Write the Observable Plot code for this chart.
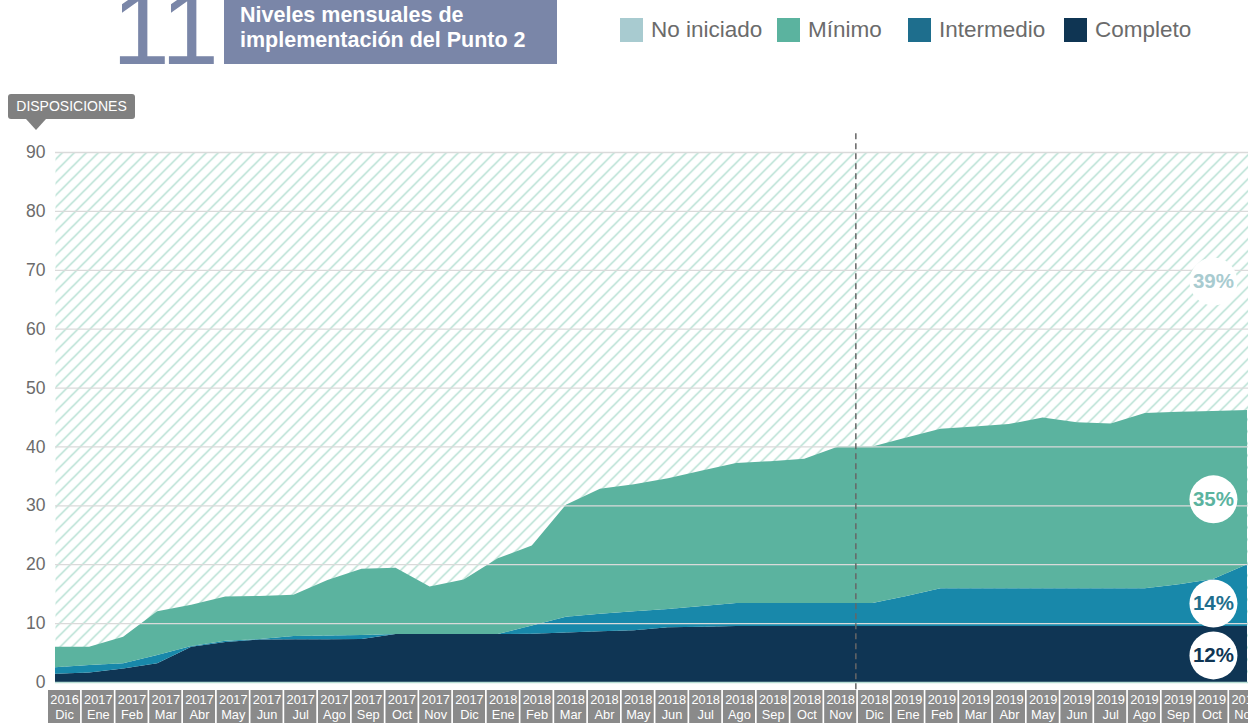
<!DOCTYPE html>
<html>
<head>
<meta charset="utf-8">
<script src="https://cdn.jsdelivr.net/npm/d3@7"></script>
<script src="https://cdn.jsdelivr.net/npm/@observablehq/plot@0.6"></script>
<style>
  html, body { margin: 0; padding: 0; background: #fff; overflow: hidden; width: 1248px; height: 723px; }
  body { position: relative; font-family: "Liberation Sans", Arial, sans-serif; }
  .abs { position: absolute; }
  #bignum { left: 112px; top: -24px; font-size: 104px; font-weight: normal; line-height: 1; color: #7a86a8; letter-spacing: -1px; font-family: "Liberation Sans", Arial, sans-serif; }
  #titlebox { left: 224px; top: 0; width: 333px; height: 64px; background: #7a86a8; color: #fff; font-weight: bold; font-size: 21.5px; line-height: 25px; box-sizing: border-box; padding: 3px 0 0 16px; }
  .lg { top: 18px; height: 24px; display: flex; align-items: center; font-size: 22.5px; color: #6b6b6b; }
  .sw { width: 23px; height: 24px; margin-right: 8px; }
  #disp { left: 8px; top: 94px; width: 127px; height: 25px; background: #808080; border-radius: 3px; color: #fff; font-size: 14px; line-height: 25px; text-align: center; }
  #disptri { left: 26px; top: 119px; width: 0; height: 0; border-left: 10px solid transparent; border-right: 10px solid transparent; border-top: 11px solid #808080; }
  #chart { left: 0; top: 130px; }
  #months { left: 0; top: 690px; width: 1248px; }
</style>
</head>
<body>
<svg width="0" height="0" style="position:absolute">
  <defs>
    <pattern id="hatch" patternUnits="userSpaceOnUse" width="12" height="12">
      <rect width="12" height="12" fill="#ffffff"/>
      <path d="M-3,3 L3,-3 M0,12 L12,0 M9,15 L15,9" stroke="#9fd7c5" stroke-width="1.2"/>
    </pattern>
  </defs>
</svg>

<div id="bignum" class="abs">11</div>
<div id="titlebox" class="abs">Niveles mensuales de<br>implementación del Punto 2</div>
<div id="legend"></div>
<div id="disp" class="abs">DISPOSICIONES</div>
<div id="disptri" class="abs"></div>
<div id="chart" class="abs"></div>
<div id="months" class="abs"></div>

<script>
// ---- Data ----
const years = ["2016","2017","2017","2017","2017","2017","2017","2017","2017","2017","2017","2017","2017",
               "2018","2018","2018","2018","2018","2018","2018","2018","2018","2018","2018","2018",
               "2019","2019","2019","2019","2019","2019","2019","2019","2019","2019","2019"];
const monthNames = ["Dic","Ene","Feb","Mar","Abr","May","Jun","Jul","Ago","Sep","Oct","Nov","Dic",
                    "Ene","Feb","Mar","Abr","May","Jun","Jul","Ago","Sep","Oct","Nov","Dic",
                    "Ene","Feb","Mar","Abr","May","Jun","Jul","Ago","Sep","Oct","Nov"];

const levels = ["Completo", "Intermedio", "Mínimo"];
const completo = [1.4,1.6,2.3,3.2,6.0,6.8,7.2,7.25,7.25,7.3,
                  8.15,8.15,8.15,8.15,8.2,8.4,8.6,8.8,9.3,9.4,
                  9.5,9.5,9.5,9.5,9.5,9.5,9.5,9.5,9.5,9.5,
                  9.5,9.5,9.5,9.5,9.5,9.5];
const intermedio = [1.1,1.3,0.9,1.4,0.1,0.2,0.1,0.55,0.65,0.7,
                    0,0,0,0,1.4,2.7,3.0,3.2,3.1,3.5,
                    3.9,3.9,3.9,3.9,3.9,5.1,6.4,6.4,6.4,6.4,
                    6.4,6.4,6.4,7.1,8.0,10.5];
const minimo = [3.5,3.1,4.5,7.4,7.0,7.5,7.3,7.0,9.4,11.25,
                11.25,8.05,9.25,12.85,13.6,19.0,21.2,21.6,22.2,23.0,
                23.8,24.1,24.5,26.6,26.6,26.9,27.1,27.5,27.9,29.0,
                28.2,28.0,29.8,29.3,28.5,26.2];

const yTicks = [0,10,20,30,40,50,60,70,80,90];
const gridTicks = [10,20,30,40,50,60,70,80,90];

const legendNames = ["No iniciado", "Mínimo", "Intermedio", "Completo"];
const legendColors = ["#a8cbd0", "#5bb39f", "#1e6e8d", "#0f3553"];
const areaColors = ["#0f3554", "#1888aa", "#5bb39f"];

const pctLabels = ["39%", "35%", "14%", "12%"];
const pctY = [68.1, 31.1, 13.4, 4.6];
const pctColors = ["#a8cbd0", "#5bb39f", "#1e6e8d", "#0f3553"];
const pctMonthIndex = 34;
const splitIndex = 23.5; // between 2018 Nov and 2018 Dic

// ---- Legend (HTML) ----
const legendLeft = [620, 777, 908, 1064];
const legendDiv = document.getElementById("legend");
legendNames.forEach((n, k) => {
  const item = document.createElement("div");
  item.className = "abs lg";
  item.style.left = legendLeft[k] + "px";
  item.innerHTML = `<div class="sw" style="background:${legendColors[k]}"></div><span>${n}</span>`;
  legendDiv.appendChild(item);
});

// ---- Long table for stacking ----
const series = [completo, intermedio, minimo];
const rows = levels.flatMap((lv, k) => series[k].map((v, i) => ({i, level: lv, value: v})));
const labelRows = pctLabels.map((t, k) => ({t, y: pctY[k], c: pctColors[k], i: pctMonthIndex}));

const chart = Plot.plot({
  width: 1248,
  height: 572,
  marginLeft: 55,
  marginRight: 0,
  marginTop: 22,
  marginBottom: 20,
  style: {fontFamily: "Liberation Sans, Arial, sans-serif", fontSize: "17.5px", color: "#6b6b6b", background: "transparent"},
  x: {type: "linear", domain: [0, years.length - 1], range: [55, 1247], axis: null},
  y: {domain: [0, 90], ticks: yTicks, tickSize: 0, tickPadding: 10, label: null},
  color: {domain: levels, range: areaColors},
  marks: [
    Plot.frame({fill: "url(#hatch)", stroke: null}),
    Plot.areaY(rows, {x: "i", y: "value", z: "level", fill: "level", order: levels}),
    Plot.ruleY(gridTicks, {stroke: "#dadada", strokeWidth: 1.3}),
    Plot.ruleY([0], {stroke: "#b7ddd4", strokeWidth: 1.5}),
    Plot.ruleX([splitIndex], {y1: 93.2, y2: -1.4, stroke: "#666", strokeWidth: 1.5, strokeDasharray: "6,4"}),
    Plot.dot(labelRows, {x: "i", y: "y", r: 24, fill: "white", stroke: null}),
    Plot.text(labelRows, {x: "i", y: "y", text: "t", fill: "c", fontSize: 20.5, fontWeight: "bold"})
  ]
});
document.getElementById("chart").appendChild(chart);

// ---- Month boxes (bottom axis) ----
const monthLabels = years.map((y, i) => y + "\n" + monthNames[i]);
const monthsPlot = Plot.plot({
  width: 1248,
  height: 33,
  margin: 0,
  style: {fontFamily: "Liberation Sans, Arial, sans-serif", background: "transparent"},
  x: {type: "band", domain: monthLabels, range: [48, 1261.2], paddingInner: 0.05, paddingOuter: 0, round: false, axis: null},
  marks: [
    Plot.cell(monthLabels, {x: d => d, fill: "#8a8a8a"}),
    Plot.text(monthLabels, {x: d => d, text: d => d, fill: "white", fontSize: 12.8, lineHeight: 1.18, frameAnchor: "middle"})
  ]
});
document.getElementById("months").appendChild(monthsPlot);
</script>
</body>
</html>
